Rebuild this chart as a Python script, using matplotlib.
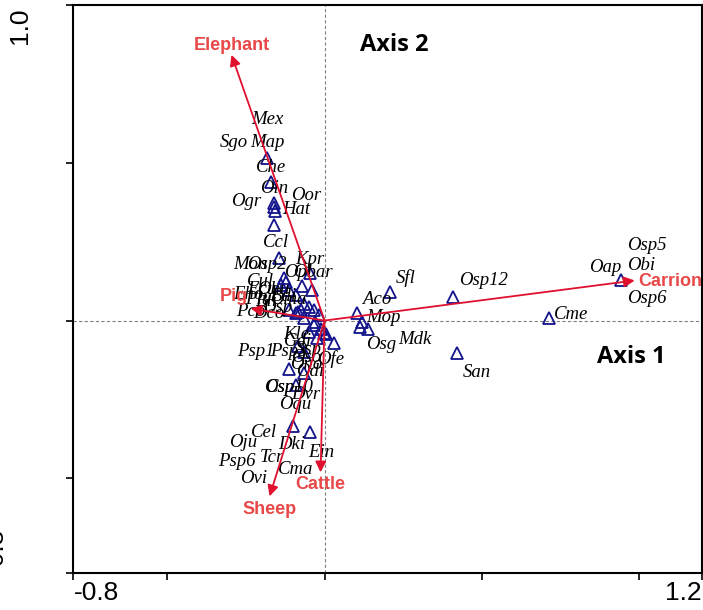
import matplotlib
matplotlib.use("Agg")
import matplotlib.pyplot as plt

# species scores (triangles)
sp_x = [-0.184, -0.169, -0.162, -0.162, -0.159, -0.162, -0.146,
        -0.045, -0.073, -0.041, -0.130, -0.124, -0.140, -0.114, -0.092,
        -0.076, -0.051, -0.035, -0.092, -0.114, -0.067, -0.019,
        -0.083, -0.067, -0.035, -0.029, -0.051, -0.025, -0.010, -0.003, 0.006, 0.029,
        -0.083, -0.067, -0.114, -0.067, -0.092, -0.099, -0.048,
        0.207, 0.407, 0.102, 0.118, 0.114, 0.137, 0.420, 0.944, 0.715]
sp_y = [0.516, 0.440, 0.373, 0.361, 0.348, 0.304, 0.199,
        0.152, 0.108, 0.098, 0.136, 0.123, 0.114, 0.098, 0.082,
        0.032, 0.044, 0.032, 0.025, 0.035, 0.051, 0.019,
        0.028, 0.009, -0.013, -0.006, -0.035, -0.054, -0.028, -0.038, -0.044, -0.070,
        -0.082, -0.101, -0.155, -0.165, -0.203, -0.335, -0.354,
        0.092, 0.076, 0.025, -0.003, -0.019, -0.028, -0.104, 0.127, 0.009]

# species label positions
lab_names = ["Mex", "Sgo", "Map", "Che", "Oin", "Oor", "Ogr", "Hat", "Ccl",
             "Kpr", "Obar", "Opl",
             "Mon", "Osp2", "Cul", "Eho", "Ohu", "Bdi", "Pco", "Dco", "Plu",
             "Oma", "Bli", "Dsp", "Ecu",
             "Kle", "Gdi", "Psp1", "Psp3", "Ssp", "Oso", "Ofe", "Ono", "Odi",
             "Osp10", "Csp", "Dvr", "Oqu", "Cel", "Oju", "Dki", "Tcr", "Ein",
             "Psp6", "Cma", "Ovi",
             "Sfl", "Osp12", "Aco", "Mop", "Osg", "Mdk", "San",
             "Osp5", "Oap", "Obi", "Osp6", "Cme"]
lab_x = [-0.181, -0.289, -0.181, -0.169, -0.162, -0.060, -0.251, -0.089, -0.153,
         -0.048, -0.038, -0.083,
         -0.235, -0.184, -0.204, -0.242, -0.162, -0.130, -0.235, -0.178, -0.210,
         -0.114, -0.185, -0.150, -0.200,
         -0.089, -0.083, -0.219, -0.114, -0.051, -0.060, 0.019, -0.057, -0.045,
         -0.114, -0.140, -0.060, -0.092, -0.194, -0.258, -0.105, -0.169, -0.010,
         -0.280, -0.092, -0.226,
         0.258, 0.506, 0.165, 0.188, 0.181, 0.286, 0.483,
         1.024, 0.893, 1.008, 1.024, 0.785]
lab_y = [0.636, 0.563, 0.563, 0.484, 0.418, 0.396, 0.377, 0.351, 0.247,
         0.193, 0.152, 0.152,
         0.177, 0.177, 0.123, 0.082, 0.098, 0.076, 0.028, 0.022, 0.066,
         0.066, 0.060, 0.040, 0.100,
         -0.044, -0.066, -0.098, -0.098, -0.092, -0.117, -0.123, -0.139, -0.161,
         -0.212, -0.212, -0.234, -0.266, -0.354, -0.386, -0.392, -0.434, -0.418,
         -0.446, -0.472, -0.500,
         0.136, 0.127, 0.066, 0.009, -0.076, -0.060, -0.165,
         0.237, 0.168, 0.174, 0.070, 0.019]

# environmental arrows
env_names = ["Elephant", "Carrion", "Pig", "Sheep", "Cattle"]
env_x = [-0.296, 0.986, -0.235, -0.175, -0.013]
env_y = [0.842, 0.127, 0.038, -0.557, -0.481]
env_lab_x = [-0.296, 0.998, -0.289, -0.175, -0.013]
env_lab_y = [0.873, 0.123, 0.076, -0.598, -0.519]
env_ha = ["center", "left", "center", "center", "center"]

fig = plt.figure(figsize=(7.03, 6.10), dpi=100)
ax = fig.add_axes([73 / 703, 37 / 610, 629 / 703, 568 / 610])
ax.set_xlim(-0.8, 1.2)
ax.set_ylim(-0.8, 1.0)
ax.set_xticks([-0.8, -0.5, 0, 0.5, 1.0, 1.2])
ax.set_yticks([-0.8, -0.5, 0, 0.5, 1.0])
ax.set_xticklabels([])
ax.set_yticklabels([])
ax.tick_params(direction="out", length=5, width=1.2, colors="black")
for s in ax.spines.values():
    s.set_linewidth(1.5)

ax.axhline(0, color="grey", ls="--", lw=0.8, dashes=(3, 2), zorder=0)
ax.axvline(0, color="grey", ls="--", lw=0.8, dashes=(3, 2), zorder=0)

ax.plot(sp_x, sp_y, "^", ms=8, mfc="none", mec="#14148C", mew=1.3, zorder=3)

for n, x, y in zip(lab_names, lab_x, lab_y):
    ax.text(x, y, n, ha="center", va="center", fontsize=13.5, style="italic",
            family="Liberation Serif", color="black", zorder=4)

for i, n in enumerate(env_names):
    ax.annotate("", xy=(env_x[i], env_y[i]), xytext=(0, 0),
                arrowprops=dict(arrowstyle="-|>", color="#E0102F", lw=1.3,
                                mutation_scale=16, shrinkA=0, shrinkB=0),
                zorder=5)
    ax.text(env_lab_x[i], env_lab_y[i], n, ha=env_ha[i], va="center",
            fontsize=13, fontweight="bold", family="Liberation Sans",
            color="#E84848", zorder=6)

ax.text(0.22, 0.873, "Axis 2", ha="center", va="center", fontsize=17,
        fontweight="bold", family="Open Sans")
ax.text(0.975, -0.117, "Axis 1", ha="center", va="center", fontsize=17,
        fontweight="bold", family="Open Sans")

# corner tick labels (the lower y label is mostly cut off, as in the original)
fig.text(74 / 703, 0.5 / 61, "-0.8", ha="left", va="bottom", fontsize=19,
         family="Liberation Sans")
fig.text(702 / 703, 0.5 / 61, "1.2", ha="right", va="bottom", fontsize=19,
         family="Liberation Sans")
fig.text(20 / 703, 1 - 8 / 610, "1.0", ha="center", va="top", rotation=90,
         fontsize=19, family="Liberation Sans")
fig.text(-4 / 703, 1 - 573 / 610, "-0.8", ha="center", va="bottom", rotation=90,
         fontsize=19, family="Liberation Sans")

fig.savefig("out.png", dpi=100)
